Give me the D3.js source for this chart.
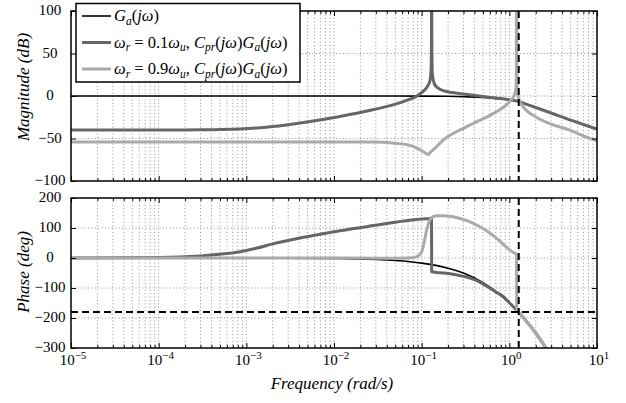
<!DOCTYPE html>
<html>
<head>
<meta charset="utf-8">
<script src="https://cdn.jsdelivr.net/npm/d3@7/dist/d3.min.js"></script>
<style>
  body { margin: 0; background: #fff; }
  svg { display: block; }
</style>
</head>
<body>
<svg id="chart" width="626" height="403" font-family="'Liberation Serif', 'Times New Roman', serif"></svg>
<script>
// ---- Bode data: [frequency (rad/s), value] ----
// Plant G_a(jw)
const gaMag = [[1e-5,0],[0.01,0],[0.05,0],[0.1,-0.1],[0.2,-0.3],[0.3,-0.7],[0.5,-1.7],[0.7,-2.9],
  [1.0,-4.6],[1.2,-5.8],[1.28,-6.5],[1.5,-9],[2.0,-13.5],[3.0,-20],[5.0,-28.4],[7.0,-33.5],[10,-39]];
const gaPhase = [[1e-5,0],[1e-3,-0.2],[0.01,-1.7],[0.03,-5],[0.05,-8.5],[0.1,-17],[0.15,-25.5],[0.2,-34],
  [0.3,-50],[0.5,-82],[0.7,-111],[1.0,-150],[1.2,-172],[1.3,-183],[1.5,-204],[2.0,-250],[2.5,-291],[3.0,-330]];

// w_r = 0.1 w_u
const pr1Mag = [[1e-5,-40],[1e-4,-40],[3e-4,-39.8],[8.5e-4,-38.8],[2e-3,-36],[4.9e-3,-30.5],[0.0117,-24],
  [0.0277,-16.2],[0.049,-9.9],[0.07,-4.5],[0.085,-1],[0.1,4],[0.108,7],[0.119,13],[0.125,19],[0.128,30],
  [0.1293,60],[0.1297,130],[0.1301,130],[0.1307,60],[0.1325,25],[0.139,15],[0.147,11],[0.16,8.3],[0.18,6],
  [0.22,4.2],[0.28,2.8],[0.35,1.4],[0.5,-0.6],[0.7,-2.3],[1.0,-4.4],[1.28,-6.5],[1.5,-9],[2.0,-13.5],
  [3.0,-20],[5.0,-28.4],[7.0,-33.5],[10,-39]];
const pr1Phase = [[1e-5,0],[1e-4,1.5],[3e-4,7],[5e-4,12.5],[8.5e-4,21],[1.3e-3,32.5],[2e-3,47],
  [4.9e-3,71],[0.0117,91],[0.0277,108],[0.066,124],[0.1,130],[0.125,132],[0.1295,132.5],[0.1301,-46],
  [0.147,-48],[0.18,-50],[0.22,-53],[0.31,-62],[0.4,-72],[0.56,-95],[0.7,-113],[0.85,-128],[1.0,-149],
  [1.15,-167],[1.28,-181],[1.5,-204],[2.0,-250],[2.5,-291],[3.0,-330]];

// w_r = 0.9 w_u
const pr9Mag = [[1e-5,-54],[0.01,-54],[0.028,-54.2],[0.049,-55.5],[0.07,-57.5],[0.085,-60.5],[0.1,-64.5],
  [0.112,-67.5],[0.119,-69],[0.126,-66],[0.14,-62],[0.16,-56],[0.18,-51],[0.22,-45],[0.28,-39.5],
  [0.35,-34.5],[0.45,-29],[0.56,-24.5],[0.7,-19],[0.85,-13.5],[1.0,-7],[1.1,-2],[1.16,3],
  [1.19,10],[1.203,30],[1.207,130],[1.212,130],[1.218,30],[1.235,6],[1.27,-1.5],[1.3,-5],[1.4,-11],
  [1.5,-15],[1.7,-20],[2.0,-24.5],[2.2,-27],[3.0,-33],[5.0,-40.5],[7.0,-47],[10,-53]];
const pr9Phase = [[1e-5,0],[0.01,0],[0.03,-0.5],[0.049,-1],[0.07,0],[0.085,3],[0.095,12],[0.1,21],
  [0.104,38],[0.108,60],[0.113,88],[0.118,110],[0.123,125],[0.128,133],[0.135,138],[0.149,141],
  [0.18,141],[0.22,138],[0.28,131],[0.35,121],[0.45,106],[0.56,89],[0.7,68],[0.85,46],[1.0,28],
  [1.1,19],[1.208,12],[1.214,-174],[1.3,-183],[1.5,-204],[2.0,-250],[2.5,-291],[3.0,-330]];

// Reference markers: crossover frequency and -180 degree line
const crossoverW = 1.28;
const phaseMargin = -180;

// Axes ticks
const decadeTicks = [1e-5, 1e-4, 1e-3, 1e-2, 1e-1, 1, 10];
const decadeExp = ["−5", "−4", "−3", "−2", "−1", "0", "1"];
const magTicks = [-100, -50, 0, 50, 100];
const phaseTicks = [-300, -200, -100, 0, 100, 200];

const legendLabels = [
  { key: "ga" },
  { key: "pr1", wr: "0.1" },
  { key: "pr9", wr: "0.9" }
];

const styles = {
  ga:  { color: "#000000", width: 1.6 },
  pr1: { color: "#666666", width: 3 },
  pr9: { color: "#aaaaaa", width: 3 }
};

// ---- layout ----
const svg = d3.select("#chart");
const left = 71, right = 597;
const x = d3.scaleLog().domain([1e-5, 10]).range([left, right]);

const minorTicks = [];
for (let e = -5; e < 1; e++) for (let k = 2; k <= 9; k++) minorTicks.push(k * Math.pow(10, e));

const panels = [
  { id: "mag", top: 11, bottom: 181, domain: [-100, 100], ticks: magTicks,
    label: "Magnitude (dB)", labelY: 87,
    series: [["ga", gaMag], ["pr1", pr1Mag], ["pr9", pr9Mag]] },
  { id: "ph", top: 198, bottom: 348, domain: [-300, 200], ticks: phaseTicks,
    label: "Phase (deg)", labelY: 272,
    series: [["ga", gaPhase], ["pr1", pr1Phase], ["pr9", pr9Phase]] }
];

const defs = svg.append("defs");

panels.forEach(p => {
  const y = d3.scaleLinear().domain(p.domain).range([p.bottom, p.top]);
  const g = svg.append("g");

  defs.append("clipPath").attr("id", "clip-" + p.id)
    .append("rect").attr("x", left).attr("y", p.top)
    .attr("width", right - left).attr("height", p.bottom - p.top);

  // dotted grid
  const grid = g.append("g").attr("stroke", "#777").attr("stroke-width", 0.8)
    .attr("stroke-dasharray", "1,2.4");
  grid.selectAll("line.v").data(minorTicks.concat(decadeTicks.slice(1, -1))).join("line")
    .attr("x1", d => x(d)).attr("x2", d => x(d)).attr("y1", p.top).attr("y2", p.bottom);
  grid.selectAll("line.h").data(p.ticks.slice(1, -1)).join("line")
    .attr("x1", left).attr("x2", right).attr("y1", d => y(d)).attr("y2", d => y(d));

  // curves
  const line = d3.line().x(d => x(d[0])).y(d => y(d[1])).curve(d3.curveMonotoneX);
  const curves = g.append("g").attr("clip-path", "url(#clip-" + p.id + ")");
  p.series.forEach(([key, data]) => {
    curves.append("path").datum(data).attr("d", line)
      .attr("fill", "none").attr("stroke", styles[key].color)
      .attr("stroke-width", styles[key].width).attr("stroke-linejoin", "round");
  });

  // dashed markers
  const dash = g.append("g").attr("stroke", "#000").attr("stroke-width", 2)
    .attr("stroke-dasharray", "7,4");
  dash.append("line").attr("x1", x(crossoverW)).attr("x2", x(crossoverW))
    .attr("y1", p.top).attr("y2", p.bottom);
  if (p.id === "ph") {
    dash.append("line").attr("x1", left).attr("x2", right)
      .attr("y1", y(phaseMargin)).attr("y2", y(phaseMargin));
  }

  // inward ticks on all four sides
  const noLab = () => "";
  g.append("g").attr("transform", `translate(0,${p.bottom})`)
    .call(d3.axisBottom(x).tickValues(decadeTicks).tickSize(-5).tickFormat(noLab));
  g.append("g").attr("transform", `translate(0,${p.bottom})`)
    .call(d3.axisBottom(x).tickValues(minorTicks).tickSize(-3).tickFormat(noLab));
  g.append("g").attr("transform", `translate(0,${p.top})`)
    .call(d3.axisTop(x).tickValues(decadeTicks).tickSize(-5).tickFormat(noLab));
  g.append("g").attr("transform", `translate(0,${p.top})`)
    .call(d3.axisTop(x).tickValues(minorTicks).tickSize(-3).tickFormat(noLab));
  g.append("g").attr("transform", `translate(${left},0)`)
    .call(d3.axisLeft(y).tickValues(p.ticks).tickSize(-5).tickFormat(noLab));
  g.append("g").attr("transform", `translate(${right},0)`)
    .call(d3.axisRight(y).tickValues(p.ticks).tickSize(-5).tickFormat(noLab));
  g.selectAll(".domain").remove();
  g.selectAll(".tick line").attr("stroke", "#000").attr("stroke-width", 1);
  g.selectAll(".tick text").remove();

  // frame
  g.append("rect").attr("x", left).attr("y", p.top)
    .attr("width", right - left).attr("height", p.bottom - p.top)
    .attr("fill", "none").attr("stroke", "#000").attr("stroke-width", 1.5);

  // y tick labels (centred column)
  g.selectAll("text.yl").data(p.ticks).join("text")
    .attr("x", 50).attr("y", d => y(d) + 4)
    .attr("text-anchor", "middle").attr("font-size", 15)
    .text(d => d < 0 ? "−" + Math.abs(d) : String(d));

  // y axis title
  g.append("text")
    .attr("transform", `translate(29,${p.labelY}) rotate(-90)`)
    .attr("text-anchor", "middle").attr("font-size", 17).attr("font-style", "italic")
    .text(p.label);
});

// x tick labels with exponents
decadeTicks.forEach((d, i) => {
  const t = svg.append("text").attr("x", x(d) + 2).attr("y", 365)
    .attr("text-anchor", "middle").attr("font-size", 15);
  t.append("tspan").text("10");
  t.append("tspan").attr("dy", -6).attr("font-size", 11).text(decadeExp[i]);
});

svg.append("text").attr("x", 332).attr("y", 389)
  .attr("text-anchor", "middle").attr("font-size", 17).attr("font-style", "italic")
  .text("Frequency (rad/s)");

// legend
const lg = svg.append("g");
lg.append("rect").attr("x", 76).attr("y", 3.5).attr("width", 224).attr("height", 78.5)
  .attr("fill", "#fff").attr("stroke", "#000").attr("stroke-width", 1.5);
const rowY = [16, 42.5, 69];
legendLabels.forEach((l, i) => {
  const s = styles[l.key];
  lg.append("line").attr("x1", 82).attr("x2", 111).attr("y1", rowY[i]).attr("y2", rowY[i])
    .attr("stroke", s.color).attr("stroke-width", s.width);
  const t = lg.append("text").attr("x", 114).attr("y", rowY[i] + 5).attr("font-size", 16.5);
  let shift = 0; // current baseline offset
  const part = (txt, italic, subscript) => {
    const target = subscript ? 3.5 : 0;
    const ts = t.append("tspan").attr("dy", target - shift).text(txt);
    shift = target;
    if (italic) ts.attr("font-style", "italic");
    if (subscript) ts.attr("font-size", 11.5);
  };
  if (l.key === "ga") {
    part("G", true); part("a", true, true); part("(", false); part("jω", true); part(")", false);
  } else {
    part("ω", true); part("r", true, true); part(" = " + l.wr, false);
    part("ω", true); part("u", true, true); part(", ", false);
    part("C", true); part("pr", true, true); part("(", false); part("jω", true); part(")", false);
    part("G", true); part("a", true, true); part("(", false); part("jω", true); part(")", false);
  }
});
</script>
</body>
</html>
